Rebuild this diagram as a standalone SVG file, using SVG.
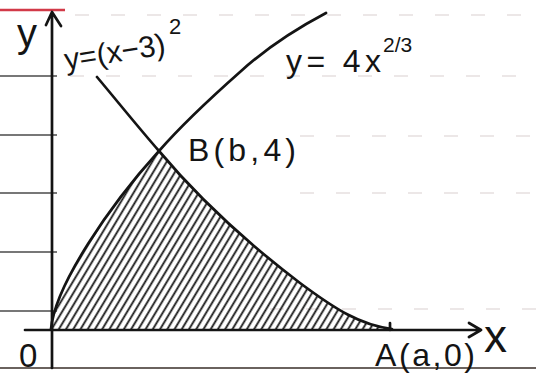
<svg xmlns="http://www.w3.org/2000/svg" width="536" height="374" viewBox="0 0 536 374">
<style>
.ink{fill:none;stroke:#141414;stroke-width:2.7;stroke-linecap:round;stroke-linejoin:round}
.rule{stroke:#4a4a4a;stroke-width:1.7}
.faint{stroke:#e6dfdf;stroke-width:1.5;stroke-dasharray:14 22}
.lbl{font-family:"Liberation Sans",Arial,sans-serif;fill:#141414}
</style>
<defs>
<pattern id="hatch" patternUnits="userSpaceOnUse" width="6.2" height="20" patternTransform="rotate(31)">
<line x1="3" y1="-2" x2="3" y2="22" stroke="#161616" stroke-width="1.8"/>
</pattern>
</defs>
<rect width="536" height="374" fill="#fff"/>
<g id="paper">
<line x1="0" y1="10" x2="65" y2="10" stroke="#d23a48" stroke-width="2.6"/>
<line class="rule" x1="0" y1="76" x2="57" y2="76"/>
<line class="rule" x1="0" y1="135" x2="57" y2="135"/>
<line class="rule" x1="0" y1="193" x2="57" y2="193"/>
<line class="rule" x1="0" y1="252" x2="57" y2="252"/>
<line class="rule" x1="0" y1="311" x2="57" y2="311"/>
<line class="faint" x1="75" y1="15" x2="536" y2="15"/>
<line class="faint" x1="70" y1="76" x2="536" y2="76"/>
<line class="faint" x1="300" y1="136" x2="536" y2="136"/>
<line class="faint" x1="300" y1="193" x2="536" y2="193"/>
<line class="faint" x1="270" y1="309" x2="536" y2="309"/>
<line x1="0" y1="368" x2="536" y2="368" stroke="#6a625e" stroke-width="2"/>
</g>
<g id="region">
<path d="M51,329 C55,285 110,205 159,151 C200,200 250,245 300,283 C335,309 360,325 392,329 Z" fill="url(#hatch)"/>
</g>
<g id="connectors">
<path id="y-axis" class="ink" d="M52,368 L52,12 M46,25 L52,12 L61,26"/>
<path id="x-axis" class="ink" d="M25,330 L481,330 M469,323 L481,330 L469,337"/>
<line class="ink" x1="390" y1="323" x2="390" y2="330"/>
<path id="curve-power" class="ink" d="M51,329 C55,285 110,205 159,151 C180,127 214,95 240,72 C262,52 290,32 326,13"/>
<path id="curve-parabola" class="ink" d="M97,77 C118,102 138,127 159,151 C200,200 250,245 300,283 C335,309 360,325 392,329"/>
</g>
<g id="labels">
<text class="lbl" x="17" y="47" font-size="40">y</text>
<text class="lbl" x="66" y="70" font-size="30" transform="rotate(-9 66 70)" textLength="102" lengthAdjust="spacing">y=(x−3)</text>
<text class="lbl" x="169" y="34" font-size="22">2</text>
<text class="lbl" x="286" y="72" font-size="32" textLength="95" lengthAdjust="spacing">y= 4x</text>
<text class="lbl" x="383" y="52" font-size="21">2/3</text>
<text class="lbl" x="188" y="161" font-size="32" textLength="108" lengthAdjust="spacing">B(b,4)</text>
<text class="lbl" x="19" y="367" font-size="33">0</text>
<text class="lbl" x="375" y="366" font-size="32" textLength="100" lengthAdjust="spacing">A(a,0)</text>
<text class="lbl" x="484" y="352" font-size="46">x</text>
</g>
</svg>
